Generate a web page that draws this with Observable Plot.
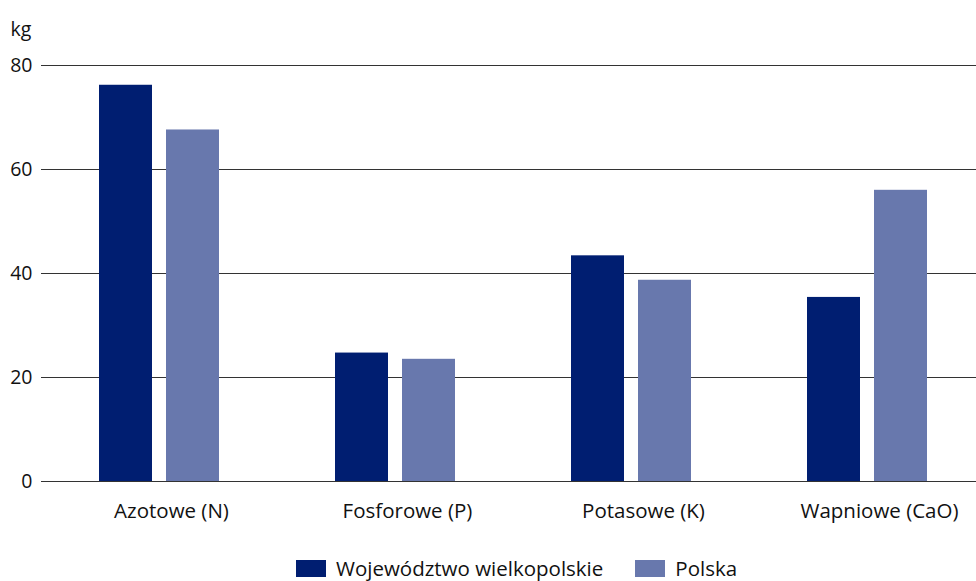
<!DOCTYPE html>
<html>
<head>
<meta charset="utf-8">
<script src="https://cdn.jsdelivr.net/npm/d3@7"></script>
<script src="https://cdn.jsdelivr.net/npm/@observablehq/plot@0.6"></script>
<style>
  html, body { margin: 0; padding: 0; background: #fff; }
  body { width: 976px; height: 581px; overflow: hidden; font-family: "Open Sans", sans-serif; }
  #chart svg { display: block; }
  #legend { display: flex; align-items: center; margin-top: 12px; padding-left: 296px; font-size: 20.5px; line-height: 22px; color: #111; }
  .item { display: flex; align-items: center; margin-right: 32px; }
  .sw { width: 30px; height: 17px; margin-right: 10px; }
</style>
</head>
<body>
<div id="chart"></div>
<div id="legend"></div>
<script>
const categories = ["Azotowe (N)", "Fosforowe (P)", "Potasowe (K)", "Wapniowe (CaO)"];
const series = ["Województwo wielkopolskie", "Polska"];
const wielkopolskie = [76.2, 24.7, 43.4, 35.4];
const polska = [67.6, 23.5, 38.7, 56.0];
const yTicks = [0, 20, 40, 60, 80];
const colors = ["#001e71", "#6878ad"];

const dataW = categories.map((c, i) => ({category: c, series: series[0], value: wielkopolskie[i]}));
const dataP = categories.map((c, i) => ({category: c, series: series[1], value: polska[i]}));

const chart = Plot.plot({
  width: 976,
  height: 545,
  marginTop: 65,
  marginBottom: 64,
  marginLeft: 41,
  marginRight: 0,
  style: {fontFamily: "Open Sans, sans-serif", fontSize: "19px", color: "#111", background: "#fff"},
  x: {domain: categories, range: [41, 985], paddingInner: 116/236, paddingOuter: 58/236, label: null},
  y: {domain: [0, 80], ticks: yTicks, label: null},
  color: {domain: series, range: colors},
  marks: [
    Plot.ruleY(yTicks, {stroke: "#333", strokeWidth: 1}),
    Plot.barY(dataW, {x: "category", y: "value", fill: "series", insetRight: 67, insetLeft: 0}),
    Plot.barY(dataP, {x: "category", y: "value", fill: "series", insetLeft: 67, insetRight: 0}),
    Plot.axisY({ticks: yTicks, tickSize: 0, tickPadding: 9, label: null, fontSize: 19.5}),
    Plot.axisX({tickSize: 0, tickPadding: 22, label: null, fontSize: 20.5, dx: 12}),
    Plot.text(["kg"], {frameAnchor: "top-left", dx: -31, dy: -43, textAnchor: "start", fontSize: 19.5})
  ]
});
document.getElementById("chart").appendChild(chart);

const legend = document.getElementById("legend");
series.forEach((s, i) => {
  const item = document.createElement("div");
  item.className = "item";
  const sw = document.createElement("div");
  sw.className = "sw";
  sw.style.background = colors[i];
  const t = document.createElement("span");
  t.textContent = s;
  item.appendChild(sw);
  item.appendChild(t);
  legend.appendChild(item);
});
</script>
</body>
</html>
